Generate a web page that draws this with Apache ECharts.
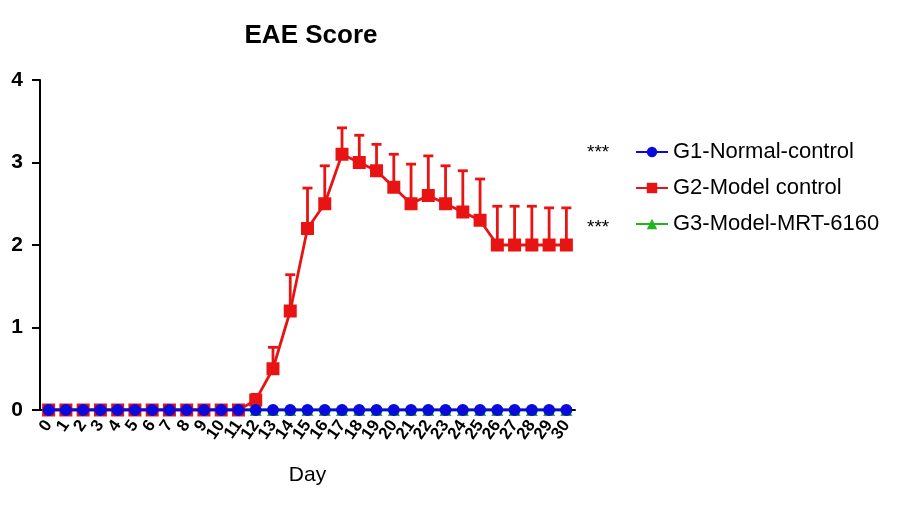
<!DOCTYPE html>
<html>
<head>
<meta charset="utf-8">
<script src="https://cdn.jsdelivr.net/npm/echarts@6/dist/echarts.min.js"></script>
<style>
  html, body { margin: 0; padding: 0; background: #fff; }
  #chart { width: 897px; height: 518px; }
</style>
</head>
<body>
<div id="chart"></div>
<script>
// days 0..30
const days = ['0','1','2','3','4','5','6','7','8','9','10','11','12','13','14','15',
  '16','17','18','19','20','21','22','23','24','25','26','27','28','29','30'];

const g1Normal = [0,0,0,0,0,0,0,0,0,0,0,0,0,0,0,0,0,0,0,0,0,0,0,0,0,0,0,0,0,0,0];
const g3Mrt = [0,0,0,0,0,0,0,0,0,0,0,0,0,0,0,0,0,0,0,0,0,0,0,0,0,0,0,0,0,0,0];
const g2Model = [0,0,0,0,0,0,0,0,0,0,0,0,0.12,0.5,1.2,2.2,2.5,3.1,3.0,2.9,2.7,2.5,2.6,2.5,2.4,2.3,2.0,2.0,2.0,2.0,2.0];
// SEM (upper bar only)
const g2Err = [0,0,0,0,0,0,0,0,0,0,0,0,0.07,0.26,0.44,0.49,0.46,0.32,0.33,0.32,0.4,0.48,0.48,0.46,0.5,0.5,0.47,0.47,0.47,0.45,0.45];

const legendNames = ['G1-Normal-control', 'G2-Model control', 'G3-Model-MRT-6160'];

const chart = echarts.init(document.getElementById('chart'));

const errData = g2Model.map((v, i) => [i, v, v + g2Err[i]]);

const option = {
  backgroundColor: '#fff',
  animation: false,
  textStyle: { fontFamily: 'Liberation Sans, Arial, sans-serif' },
  title: {
    text: 'EAE Score',
    left: 306,
    top: 18,
    textAlign: 'center',
    textStyle: { fontSize: 26, fontWeight: 'bold', color: '#000' }
  },
  grid: { left: 40, right: 322, top: 80, bottom: 108 },
  legend: {
    orient: 'vertical',
    left: 630,
    top: 136,
    itemWidth: 32,
    itemHeight: 13,
    itemGap: 14,
    data: legendNames,
    textStyle: { fontSize: 22, color: '#000', padding: [0, 0, 0, 0] }
  },
  graphic: [
    { type: 'text', left: 587, top: 143, style: { text: '***', fontSize: 19, fill: '#000' } },
    { type: 'text', left: 587, top: 218, style: { text: '***', fontSize: 19, fill: '#000' } }
  ],
  xAxis: {
    type: 'category',
    data: days,
    boundaryGap: true,
    name: 'Day',
    nameLocation: 'middle',
    nameGap: 55,
    nameTextStyle: { fontSize: 21, color: '#000' },
    axisLine: { lineStyle: { color: '#000', width: 2 } },
    axisTick: { alignWithLabel: true, length: 8, lineStyle: { color: '#000', width: 2 } },
    axisLabel: { interval: 0, rotate: 55, fontSize: 17, fontWeight: 'bold', color: '#000', margin: 12 }
  },
  yAxis: {
    type: 'value',
    min: 0,
    max: 4,
    interval: 1,
    axisLine: { show: true, lineStyle: { color: '#000', width: 2 } },
    axisTick: { show: true, length: 8, lineStyle: { color: '#000', width: 2 } },
    axisLabel: { fontSize: 21, fontWeight: 'bold', color: '#000', margin: 17 },
    splitLine: { show: false }
  },
  series: [
    {
      name: 'G1-Normal-control',
      type: 'line',
      data: g1Normal,
      symbol: 'circle',
      symbolSize: 12,
      z: 5,
      itemStyle: { color: '#0a0adc' },
      lineStyle: { color: '#0a0adc', width: 3 }
    },
    {
      name: 'G2-Model control',
      type: 'line',
      data: g2Model,
      symbol: 'rect',
      symbolSize: 13,
      z: 4,
      itemStyle: { color: '#e81414' },
      lineStyle: { color: '#e81414', width: 2.8 }
    },
    {
      name: 'G3-Model-MRT-6160',
      type: 'line',
      data: g3Mrt,
      symbol: 'triangle',
      symbolSize: 12,
      z: 2,
      itemStyle: { color: '#1fb51f' },
      lineStyle: { color: '#1fb51f', width: 3 }
    },
    {
      // error bars of G2
      type: 'custom',
      z: 3,
      data: errData,
      renderItem: (params, api) => {
        if (api.value(2) <= api.value(1)) return;
        const lo = api.coord([api.value(0), api.value(1)]);
        const hi = api.coord([api.value(0), api.value(2)]);
        const w = 5;
        const style = { stroke: '#e81414', lineWidth: 2.8 };
        return {
          type: 'group',
          children: [
            { type: 'line', shape: { x1: lo[0], y1: lo[1], x2: hi[0], y2: hi[1] }, style },
            { type: 'line', shape: { x1: hi[0] - w, y1: hi[1], x2: hi[0] + w, y2: hi[1] }, style }
          ]
        };
      }
    }
  ]
};

chart.setOption(option);
</script>
</body>
</html>
